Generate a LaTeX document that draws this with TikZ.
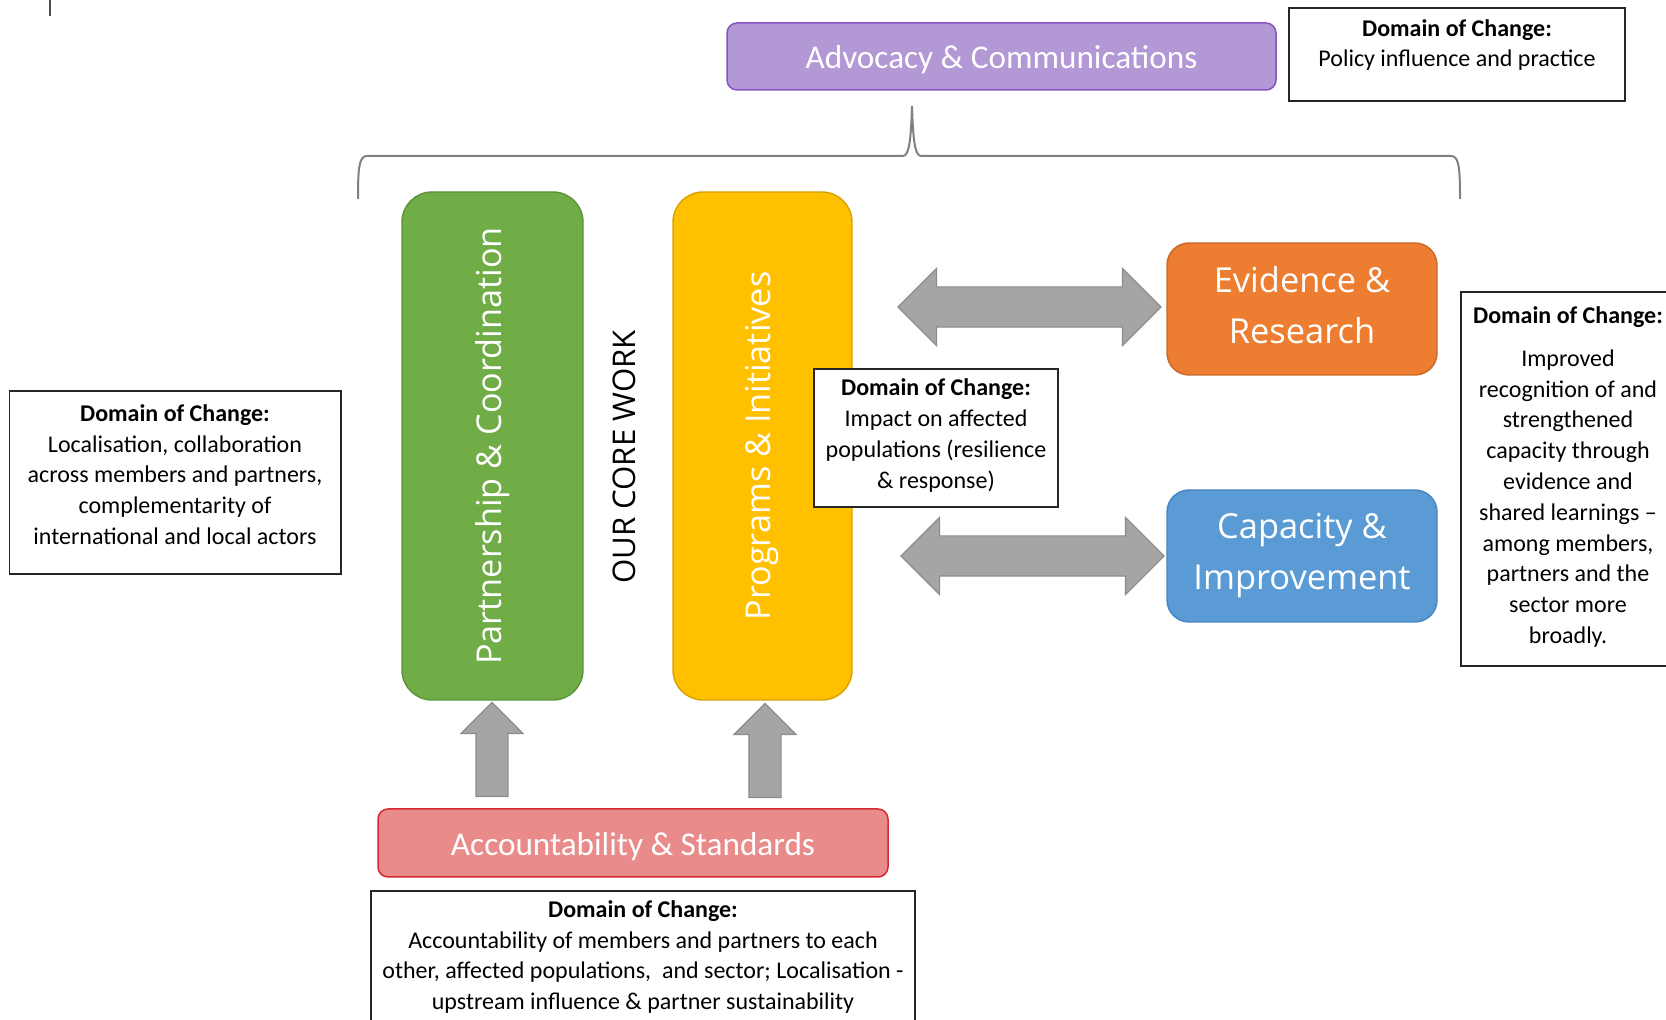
\documentclass[tikz,border=0pt]{standalone}
\usepackage{fontspec}
\setmainfont{Carlito}
\newfontfamily\boxfont{Open Sans}
\usepackage{tikz}
\usetikzlibrary{shapes.arrows,positioning}
\usepackage{xcolor}
\definecolor{advfill}{RGB}{178,152,212}
\definecolor{advline}{RGB}{132,84,190}
\definecolor{pcgreen}{RGB}{112,173,71}
\definecolor{pcline}{RGB}{92,146,58}
\definecolor{piyellow}{RGB}{255,192,0}
\definecolor{piline}{RGB}{214,162,0}
\definecolor{erorange}{RGB}{237,125,49}
\definecolor{erline}{RGB}{200,104,40}
\definecolor{ciblue}{RGB}{91,155,213}
\definecolor{ciline}{RGB}{72,132,190}
\definecolor{asfill}{RGB}{233,139,139}
\definecolor{asline}{RGB}{212,40,50}
\definecolor{arrfill}{RGB}{165,165,165}
\definecolor{arrline}{RGB}{140,140,140}

\begin{document}
\begin{tikzpicture}[x=0.5pt,y=-0.5pt,
    barbox/.style={draw,line width=0.75pt,rounded corners=5pt,text=white,
      text height=16pt,text depth=3.5pt,font=\fontsize{16.6}{20}\selectfont},
    corebox/.style={draw,line width=0.7pt,rounded corners=15pt,text=white,
      rotate=90,font=\boxfont\fontsize{17.1}{20}\selectfont},
    sidebox/.style={draw,line width=0.7pt,rounded corners=11pt,text=white,
      align=center,minimum width=135pt,minimum height=66pt,
      font=\boxfont\fontsize{17.2}{25.5}\selectfont},
    dombox/.style={draw=black!85,line width=0.75pt,fill=white},
    domtext/.style={align=center,inner sep=0pt,
      font=\fontsize{12}{15.4}\selectfont},
    dblarrow/.style={double arrow,draw=arrline,fill=arrfill,line width=0.6pt,
      inner xsep=0pt,inner ysep=9.75pt,double arrow head extend=9.25pt,
      minimum height=131.5pt,minimum width=38pt},
    uparrow/.style={single arrow,shape border rotate=90,draw=arrline,
      fill=arrfill,line width=0.6pt,inner xsep=7.75pt,inner ysep=0pt,
      single arrow head extend=7.5pt,minimum height=47pt,minimum width=30.5pt}]
  \useasboundingbox (0,0) rectangle (1666,1020);
  \clip (0,0) rectangle (1666,1020);
  \draw[black!70,line width=0.6pt] (50,0) -- (50,16);

  % top row
  \node[barbox,fill=advfill,draw=advline,minimum width=274.5pt,minimum height=33.5pt]
    (adv) at (1001.5,56.5) {Advocacy \& Communications};
  \node[dombox,minimum width=168pt,minimum height=46.5pt] (polBox) at (1457,54.5) {};
  \node[domtext] (polText) at (1457,45)
    {\textbf{Domain of Change:}\\Policy influence and practice};

  % brace over the core work
  \draw[black!50,line width=1pt]
    (358,199) .. controls (358,168) and (359,156) .. (367,156) -- (903,156)
    .. controls (909,156) and (911,140) .. (912,106)
    .. controls (913,140) and (915,156) .. (921,156) -- (1451,156)
    .. controls (1459,156) and (1460,168) .. (1460,199);

  % core work columns
  \node[corebox,fill=pcgreen,draw=pcline,minimum width=254pt,minimum height=90.5pt]
    (partner) at (492.5,446) {Partnership \& Coordination};
  \node[corebox,fill=piyellow,draw=piline,minimum width=254pt,minimum height=89.5pt]
    (progs) at (762.5,446) {Programs \& Initiatives};
  \node[rotate=90,font=\boxfont\fontsize{15.6}{18}\selectfont] (core) at (624,457)
    {OUR CORE WORK};

  % evidence and capacity
  \node[sidebox,fill=erorange,draw=erline] (evid) at (1302,309)
    {Evidence \&\\Research\vphantom{p}};
  \node[sidebox,fill=ciblue,draw=ciline] (capac) at (1302,556) {Capacity \&\\Improvement};
  \node[dblarrow] (arrEvid) at (1029.5,307) {};
  \node[dblarrow] (arrCapac) at (1032.5,556) {};

  % accountability underneath
  \node[uparrow] (arrPartner) at (492,757.5) {};
  \node[uparrow] (arrProgs) at (765,758.5) {};
  \node[barbox,fill=asfill,draw=asline,minimum width=255pt,minimum height=34pt]
    (acc) at (633,843) {Accountability \& Standards};

  % domains of change
  \node[dombox,minimum width=165.75pt,minimum height=91.5pt] (locBox) at (175.25,482.5) {};
  \node[domtext] (locText) at (175,474.5)
    {\textbf{Domain of Change:}\\Localisation, collaboration\\across members and partners,\\
     complementarity of\\international and local actors};
  \node[dombox,minimum width=122pt,minimum height=69pt] (impBox) at (936,438) {};
  \node[domtext] (impText) at (936,435.5)
    {\textbf{Domain of Change:}\\Impact on affected\\populations (resilience\\\& response)};
  \node[dombox,minimum width=107pt,minimum height=187pt] (recBox) at (1568,479) {};
  \node[domtext] (recText) at (1568,477)
    {\textbf{Domain of Change:}\\[6pt]Improved\\recognition of and\\strengthened\\
     capacity through\\evidence and\\shared learnings --\\among members,\\
     partners and the\\sector more\\broadly.};
  \node[dombox,minimum width=272pt,minimum height=84.5pt] (accBox) at (643,975.5) {};
  \node[domtext] (accText) at (643,957)
    {\textbf{Domain of Change:}\\Accountability of members and partners to each\\
     other, affected populations,\ \ and sector; Localisation -\\
     upstream influence \& partner sustainability};
\end{tikzpicture}
\end{document}
